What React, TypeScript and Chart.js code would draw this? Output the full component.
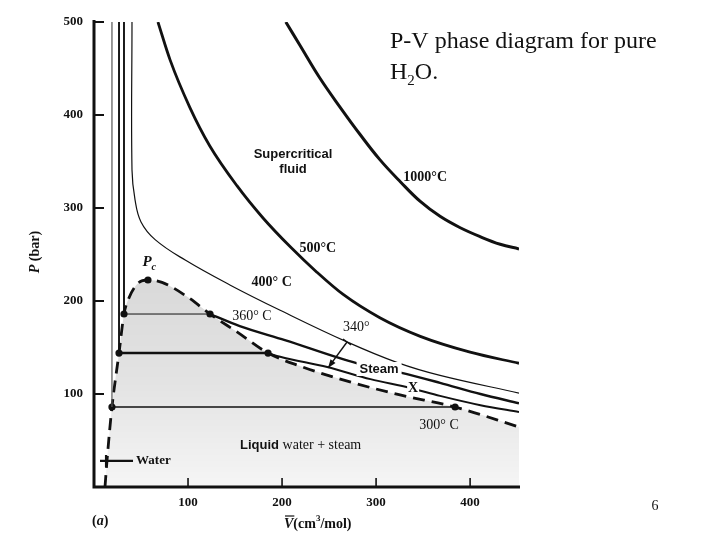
import React, { useEffect, useRef } from 'react';
import { Chart, registerables } from 'chart.js';

Chart.register(...registerables);

// ---- data (V in cm3/mol, P in bar) ----
const xTicks = [100, 200, 300, 400];
const yTicks = [100, 200, 300, 400, 500];

const iso1000V = [204, 219, 240, 262, 283, 304, 326, 347, 368, 389, 411, 432, 452];
const iso1000P = [500, 475, 440, 408, 379, 352, 328, 307, 291, 279, 269, 261, 256];

const iso500V = [68, 81, 102, 123, 152, 180, 209, 237, 265, 304, 347, 400, 452];
const iso500P = [500, 459, 408, 367, 324, 289, 258, 231, 207, 182, 162, 145, 133];

const iso400V = [40.4, 40.4, 43.6, 50, 65, 97, 145, 198, 269, 322, 368, 452];
const iso400P = [500, 341, 309, 285, 266, 244, 217, 190, 156, 134, 120, 101];

const satLabels = ['360° C', '340°', '300° C'];
const satP = [186, 144, 86];
const liqV = [31.9, 26.6, 19.1];
const vapV = [123.4, 185.1, 384];

const steam360V = [123.4, 155, 203, 280, 326, 368, 411, 452];
const steam360P = [186, 173, 158, 133, 123, 112, 100, 90];

const steam340V = [185.1, 198, 248, 294, 336, 368, 411, 452];
const steam340P = [144, 140, 129, 116, 106.5, 98, 88, 80.6];

const domeV = [11.7, 13.8, 19.1, 26.6, 31.9, 36.2, 46.8, 57.4, 72.3, 100, 123.4, 153.2, 185.1, 219.1, 272.3, 325.5, 384, 452];
const domeP = [0, 28, 86, 144, 186, 201, 219, 222.6, 220, 204, 186, 166, 144, 130, 113, 99, 86, 64.5];

const critV = 57.4;
const critP = 222.6;

const toPts = (vs: number[], ps: number[]) => vs.map((v, i) => ({ x: v, y: ps[i] }));

const SERIF = '"Liberation Serif", "DejaVu Serif", serif';
const SANS = '"Liberation Sans", Arial, sans-serif';

const drawPlugin = {
  id: 'pvDecor',
  afterDraw(chart: any) {
    const { ctx, scales } = chart;
    const X = (v: number) => scales.x.getPixelForValue(v);
    const Y = (p: number) => scales.y.getPixelForValue(p);
    const x0 = X(0), y0 = Y(0), yTop = Y(500);
    ctx.save();
    ctx.fillStyle = '#111';
    ctx.strokeStyle = '#111';

    // axes
    ctx.lineWidth = 3;
    ctx.beginPath();
    ctx.moveTo(x0, yTop - 2);
    ctx.lineTo(x0, y0);
    ctx.lineTo(X(452) + 1, y0);
    ctx.stroke();

    // ticks
    ctx.lineWidth = 2;
    yTicks.forEach((t) => {
      ctx.beginPath();
      ctx.moveTo(x0, Y(t));
      ctx.lineTo(x0 + 10, Y(t));
      ctx.stroke();
    });
    ctx.lineWidth = 1.6;
    xTicks.forEach((t) => {
      ctx.beginPath();
      ctx.moveTo(X(t), y0);
      ctx.lineTo(X(t), y0 - 9);
      ctx.stroke();
    });

    const text = (s: string, x: number, y: number, font: string, align: CanvasTextAlign = 'left', base: CanvasTextBaseline = 'middle') => {
      ctx.font = font;
      ctx.textAlign = align;
      ctx.textBaseline = base;
      ctx.fillText(s, x, y);
    };

    // tick labels
    yTicks.forEach((t) => text(String(t), x0 - 11, Y(t), `bold 13px ${SERIF}`, 'right'));
    xTicks.forEach((t) => text(String(t), X(t), y0 + 16, `bold 13px ${SERIF}`, 'center'));

    // y-axis title (rotated)
    ctx.save();
    ctx.translate(35, 252);
    ctx.rotate(-Math.PI / 2);
    ctx.font = `bold italic 14px ${SERIF}`;
    const wp = ctx.measureText('P').width;
    ctx.font = `bold 14px ${SERIF}`;
    const wb = ctx.measureText(' (bar)').width;
    const sx = -(wp + wb) / 2;
    text('P', sx, 0, `bold italic 14px ${SERIF}`);
    text(' (bar)', sx + wp, 0, `bold 14px ${SERIF}`);
    ctx.restore();

    // x-axis title
    let cx = 284;
    const cy = 524;
    ctx.font = `bold italic 14px ${SERIF}`;
    const wV = ctx.measureText('V').width;
    text('V', cx, cy, `bold italic 14px ${SERIF}`);
    ctx.lineWidth = 1.2;
    ctx.beginPath();
    ctx.moveTo(cx + 1, cy - 8);
    ctx.lineTo(cx + wV + 1, cy - 8);
    ctx.stroke();
    cx += wV;
    text('(cm', cx, cy, `bold 14px ${SERIF}`);
    ctx.font = `bold 14px ${SERIF}`;
    cx += ctx.measureText('(cm').width;
    text('3', cx, cy - 5, `bold 9px ${SERIF}`);
    ctx.font = `bold 9px ${SERIF}`;
    cx += ctx.measureText('3').width;
    text('/mol)', cx, cy, `bold 14px ${SERIF}`);

    // (a)
    text('(', 92, 521, `bold 14px ${SERIF}`);
    ctx.font = `bold 14px ${SERIF}`;
    const wpar = ctx.measureText('(').width;
    text('a', 92 + wpar, 521, `bold italic 14px ${SERIF}`);
    ctx.font = `bold italic 14px ${SERIF}`;
    const wa = ctx.measureText('a').width;
    text(')', 92 + wpar + wa, 521, `bold 14px ${SERIF}`);

    // region and isotherm labels (positions in data coordinates)
    text('Supercritical', X(211.7), Y(358), `bold 13px ${SANS}`, 'center');
    text('fluid', X(211.7), Y(342), `bold 13px ${SANS}`, 'center');
    text('1000°C', X(329), Y(333), `bold 14px ${SERIF}`);
    text('500°C', X(238), Y(257), `bold 14px ${SERIF}`, 'center');
    text('400° C', X(189), Y(220.4), `bold 14px ${SERIF}`, 'center');
    text(satLabels[0], X(168), Y(184), `14px ${SERIF}`, 'center');
    text(satLabels[1], X(279), Y(172), `14px ${SERIF}`, 'center');
    text(satLabels[2], X(367), Y(66.7), `14px ${SERIF}`, 'center');

    // "Steam" and "X" interrupting the lines
    ctx.font = `bold 13px ${SANS}`;
    const ws = ctx.measureText('Steam').width;
    ctx.fillStyle = '#fff';
    ctx.fillRect(X(303.2) - ws / 2 - 3, Y(126.9) - 7, ws + 6, 14);
    ctx.fillRect(X(339.4) - 6, Y(106.5) - 6, 12, 12);
    ctx.fillStyle = '#111';
    text('Steam', X(303.2), Y(126.9), `bold 13px ${SANS}`, 'center');
    text('X', X(339.4), Y(106.5), `bold 14px ${SERIF}`, 'center');

    // Liquid water + steam
    text('Liquid', X(155.3), Y(45.2), `bold 13px ${SANS}`);
    ctx.font = `bold 13px ${SANS}`;
    const wl = ctx.measureText('Liquid ').width;
    text('water + steam', X(155.3) + wl, Y(45.2), `14px ${SERIF}`);

    // Water label with arrow/cross
    text('Water', X(44.7), Y(28), `bold 13px ${SERIF}`);
    ctx.lineWidth = 2.2;
    ctx.beginPath();
    ctx.moveTo(X(6.4), Y(28));
    ctx.lineTo(X(41.5), Y(28));
    ctx.moveTo(X(12.8), Y(28) - 6);
    ctx.lineTo(X(12.8), Y(28) + 6);
    ctx.stroke();

    // critical point label
    text('P', X(51.5), Y(242), `bold italic 15px ${SERIF}`);
    ctx.font = `bold italic 15px ${SERIF}`;
    const wP = ctx.measureText('P').width;
    text('c', X(51.5) + wP, Y(242) + 5, `bold italic 10px ${SERIF}`);

    // 340 arrow
    const ax1 = X(269.1), ay1 = Y(155.9), ax2 = X(248.9), ay2 = Y(128);
    ctx.lineWidth = 1.4;
    ctx.beginPath();
    ctx.moveTo(ax1, ay1);
    ctx.lineTo(ax2, ay2);
    ctx.stroke();
    const ang = Math.atan2(ay2 - ay1, ax2 - ax1);
    ctx.beginPath();
    ctx.moveTo(ax2, ay2);
    ctx.lineTo(ax2 - 9 * Math.cos(ang - 0.35), ay2 - 9 * Math.sin(ang - 0.35));
    ctx.lineTo(ax2 - 9 * Math.cos(ang + 0.35), ay2 - 9 * Math.sin(ang + 0.35));
    ctx.closePath();
    ctx.fill();
    ctx.beginPath();
    ctx.moveTo(ax1 - 4, ay1 - 3);
    ctx.lineTo(ax1 + 4, ay1 + 3);
    ctx.stroke();

    // title text
    text('P-V phase diagram for pure', 390, 48, `24px ${SERIF}`, 'left', 'alphabetic');
    text('H', 390, 79, `24px ${SERIF}`, 'left', 'alphabetic');
    ctx.font = `24px ${SERIF}`;
    const wH = ctx.measureText('H').width;
    text('2', 390 + wH, 85, `15px ${SERIF}`, 'left', 'alphabetic');
    ctx.font = `15px ${SERIF}`;
    const w2 = ctx.measureText('2').width;
    text('O.', 390 + wH + w2, 79, `24px ${SERIF}`, 'left', 'alphabetic');

    // page number
    text('6', 655, 506, `14px ${SERIF}`, 'center');

    ctx.restore();
  },
};

export default function App() {
  const ref = useRef<HTMLCanvasElement | null>(null);

  useEffect(() => {
    if (!ref.current) return;
    const dome = toPts(domeV, domeP);
    const line = (data: any[], w: number, extra: any = {}) => ({
      data,
      borderColor: '#111',
      borderWidth: w,
      pointRadius: 0,
      fill: false,
      ...extra,
    });
    const vertW = [1.9, 1.9, 1.2];
    const vertC = ['#111', '#111', '#555'];
    const horW = [1, 2.5, 1.6];

    const chart = new Chart(ref.current, {
      type: 'line',
      data: {
        datasets: [
          line(toPts(iso1000V, iso1000P), 3, { tension: 0.4 }),
          line(toPts(iso500V, iso500P), 2.8, { cubicInterpolationMode: 'monotone' }),
          line(toPts(iso400V, iso400P), 1.2, { tension: 0.4 }),
          line(toPts(steam360V, steam360P), 2.4, { cubicInterpolationMode: 'monotone' }),
          line(toPts(steam340V, steam340P), 2, { cubicInterpolationMode: 'monotone' }),
          ...liqV.map((v, i) => line([{ x: v, y: 500 }, { x: v, y: satP[i] }], vertW[i], { borderColor: vertC[i] })),
          ...liqV.map((v, i) => line([{ x: v, y: satP[i] }, { x: vapV[i], y: satP[i] }], horW[i])),
          {
            data: [
              ...liqV.map((v, i) => ({ x: v, y: satP[i] })),
              ...vapV.map((v, i) => ({ x: v, y: satP[i] })),
              { x: critV, y: critP },
            ],
            showLine: false,
            pointRadius: 3.6,
            pointBackgroundColor: '#111',
            pointBorderWidth: 0,
          },
          line(dome, 2.8, { borderDash: [12, 7], cubicInterpolationMode: 'monotone' }),
          {
            data: dome,
            borderWidth: 0,
            pointRadius: 0,
            cubicInterpolationMode: 'monotone',
            fill: 'origin',
            backgroundColor: (c: any) => {
              const ch = c.chart;
              const area = ch.chartArea;
              if (!area) return 'rgba(0,0,0,0.1)';
              const g = ch.ctx.createLinearGradient(0, ch.scales.y.getPixelForValue(225), 0, area.bottom);
              g.addColorStop(0, 'rgba(0,0,0,0.15)');
              g.addColorStop(0.5, 'rgba(0,0,0,0.11)');
              g.addColorStop(1, 'rgba(0,0,0,0.04)');
              return g;
            },
          },
        ],
      },
      options: {
        responsive: false,
        animation: false,
        devicePixelRatio: 1,
        layout: { padding: { left: 94, top: 22, right: 201, bottom: 53 } },
        scales: {
          x: { type: 'linear', min: 0, max: 452, display: false },
          y: { type: 'linear', min: 0, max: 500, display: false },
        },
        plugins: { legend: { display: false }, tooltip: { enabled: false } },
        events: [],
      },
      plugins: [drawPlugin],
    });
    return () => chart.destroy();
  }, []);

  return (
    <div style={{ position: 'fixed', left: 0, top: 0, width: 720, height: 540, background: '#fff' }}>
      <canvas ref={ref} width={720} height={540} />
    </div>
  );
}
